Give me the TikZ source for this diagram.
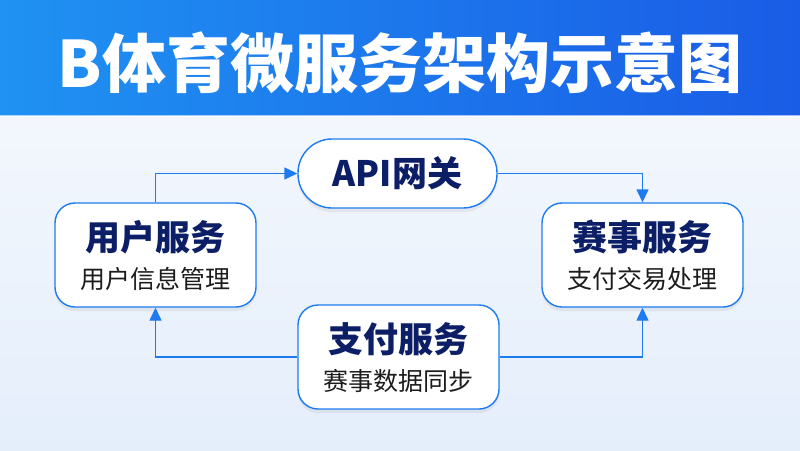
\documentclass[tikz,border=0pt]{standalone}
\usepackage{fontspec}
\setmainfont{Noto Sans CJK SC}
\usetikzlibrary{arrows.meta,shadows}
\definecolor{linec}{HTML}{1E7BEF}
\definecolor{navy}{HTML}{0B1E66}
\definecolor{subc}{HTML}{1C1C1C}
\definecolor{hdrL}{HTML}{1F92F2}
\definecolor{hdrR}{HTML}{1A5CE6}
\definecolor{bgT}{HTML}{F3F7FD}
\definecolor{bgB}{HTML}{E4EEFB}
\tikzset{
  svc/.style={draw=linec, line width=1.4pt, fill=white, rounded corners=20pt,
    minimum width=201pt, minimum height=104pt,
    drop shadow={opacity=0.12, shadow xshift=0pt, shadow yshift=-4pt}},
  pill/.style={draw=linec, line width=1.4pt, fill=white, rounded corners=34pt,
    minimum width=199pt, minimum height=69pt,
    drop shadow={opacity=0.12, shadow xshift=0pt, shadow yshift=-4pt}},
  ttl/.style={text=navy, font=\fontsize{35}{38}\selectfont\bfseries, inner sep=0pt},
  sub/.style={text=subc, font=\fontsize{25}{28}\selectfont, inner sep=0pt},
  conn/.style={draw=linec, line width=1.4pt, -{Triangle[length=13pt,width=12pt]}},
}
\begin{document}
\begin{tikzpicture}[x=1pt,y=-1pt]
\useasboundingbox (0,0) rectangle (800,450);
\shade[top color=bgT, bottom color=bgB] (0,115) rectangle (800,450);
\shade[left color=hdrL, right color=hdrR] (0,0) rectangle (800,115);
\fill[white, opacity=0.6] (0,115) rectangle (800,117);
\node[text=white, font=\fontsize{64}{68}\selectfont\bfseries, inner sep=0pt] (title) at (400,63) {B体育微服务架构示意图};

\node[pill] (api) at (397.5,173.5) {};
\node[ttl] (apit) at (api.center) {API网关};

\node[svc] (user) at (155.5,255) {};
\node[ttl] (usert) at ([yshift=18pt]user.center) {用户服务};
\node[sub] (users) at ([yshift=-24pt]user.center) {用户信息管理};

\node[svc] (match) at (642.5,255) {};
\node[ttl] (matcht) at ([yshift=18pt]match.center) {赛事服务};
\node[sub] (matchs) at ([yshift=-24pt]match.center) {支付交易处理};

\node[svc] (pay) at (398.5,357) {};
\node[ttl] (payt) at ([yshift=18pt]pay.center) {支付服务};
\node[sub] (pays) at ([yshift=-24pt]pay.center) {赛事数据同步};

\draw[conn] (user.north) |- (api.west);
\draw[conn] (api.east) -| (match.north);
\draw[conn] (pay.west) -| (user.south);
\draw[conn] (pay.east) -| (match.south);
\end{tikzpicture}
\end{document}
